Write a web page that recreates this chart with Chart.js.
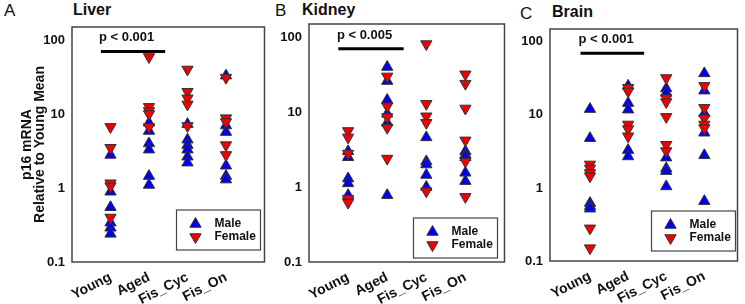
<!DOCTYPE html>
<html>
<head>
<meta charset="utf-8">
<script src="https://cdn.jsdelivr.net/npm/chart.js@4.4.1/dist/chart.umd.min.js"></script>
<style>
  html, body { margin: 0; padding: 0; background: #fff; }
  body { width: 745px; height: 304px; position: relative; overflow: hidden; font-family: "Liberation Sans", Arial, sans-serif; color: #111; }
  .panel { position: absolute; top: 0; height: 304px; }
  .letter { position: absolute; font-size: 17px; }
  .title { position: absolute; font-size: 16px; font-weight: bold; }
</style>
</head>
<body>
<div class="letter" style="left:4px;top:1px">A</div>
<div class="title" style="left:73px;top:1px">Liver</div>
<div class="letter" style="left:275px;top:1px">B</div>
<div class="title" style="left:302px;top:1px">Kidney</div>
<div class="letter" style="left:520px;top:4px">C</div>
<div class="title" style="left:552px;top:3px">Brain</div>

<div class="panel" style="left:0;width:272px"><canvas id="liver" width="272" height="304"></canvas></div>
<div class="panel" style="left:272px;width:240px"><canvas id="kidney" width="240" height="304"></canvas></div>
<div class="panel" style="left:512px;width:233px"><canvas id="brain" width="233" height="304"></canvas></div>

<script>
// values, one inner array per group (Young, Aged, Fis_Cyc, Fis_On)
const categories = ['Young', 'Aged', 'Fis_Cyc', 'Fis_On'];
const yTicks = [0.1, 1, 10, 100];
const seriesNames = ['Male', 'Female'];

const liverMale = [[2.8, 0.89, 0.55, 0.34, 0.29, 0.24], [7.6, 5.9, 4.0, 3.3, 1.45, 1.1], [7.3, 4.5, 3.8, 3.3, 2.65, 2.2], [33, 7.0, 5.7, 2.0, 1.45, 1.3]];
const liverFemale = [[6.7, 3.5, 1.16, 1.06, 0.40], [59, 12.5, 11, 10, 6.7], [40, 20, 16.3, 13.5, 6.9], [31, 8.8, 7.8, 3.8, 2.8]];
const kidneyMale = [[3.0, 2.5, 1.3, 1.12, 0.78], [40, 26, 14.5, 9.5, 7.2, 0.78], [4.6, 2.2, 2.0, 1.45, 1.0], [3.0, 2.7, 2.5, 1.55, 1.2]];
const kidneyFemale = [[5.6, 4.6, 2.8, 0.7, 0.62], [30, 12, 8.6, 6.2, 2.4], [81, 12.9, 8.8, 7.2, 0.88], [32, 24, 11.2, 4.2, 2.2, 0.74]];
const brainMale = [[12, 4.8, 0.62, 0.56, 0.52], [25, 14.5, 11.8, 3.3, 2.7], [23, 20, 2.6, 1.85, 1.7, 1.05], [37, 21.5, 10.5, 5.7, 2.8, 0.66]];
const brainFemale = [[2.1, 1.85, 1.6, 1.45, 0.28, 0.15], [23.5, 21, 7.4, 6.4, 5.1], [32, 17, 15, 9.4, 3.9, 3.2], [25, 12.5, 9, 7.4, 6.6]];

const pLabels = ['p < 0.001', 'p < 0.005', 'p < 0.001'];
const sigBar = { from: 0.75, to: 2.42, y: 70, textX: 1.42 };

const FONT = '"Liberation Sans", Arial, sans-serif';
const BLUE = '#0000f0';
const RED = '#f00000';
const EDGE = '#333';

const toPoints = groups => groups.flatMap((vals, i) => vals.map(v => ({ x: i + 1, y: v })));

function tri(ctx, cx, cy, r, down, fill) {
  ctx.save();
  ctx.translate(cx, cy);
  if (down) ctx.rotate(Math.PI);
  ctx.beginPath();
  for (let k = 0; k < 3; k++) {
    const a = k * 2 * Math.PI / 3;
    ctx[k ? 'lineTo' : 'moveTo'](Math.sin(a) * r, -Math.cos(a) * r);
  }
  ctx.closePath();
  ctx.fillStyle = fill;
  ctx.fill();
  ctx.strokeStyle = EDGE;
  ctx.lineWidth = 1;
  ctx.stroke();
  ctx.restore();
}

// frame, significance bar and the boxed legend
const panelDecor = {
  id: 'panelDecor',
  afterDatasetsDraw(chart, args, o) {
    const { ctx, chartArea: a, scales: { x, y } } = chart;
    ctx.save();
    ctx.strokeStyle = '#444';
    ctx.lineWidth = 1.5;
    ctx.strokeRect(a.left, a.top, a.right - a.left, a.bottom - a.top);

    const by = y.getPixelForValue(sigBar.y);
    ctx.strokeStyle = '#000';
    ctx.lineWidth = 3;
    ctx.beginPath();
    ctx.moveTo(x.getPixelForValue(sigBar.from), by);
    ctx.lineTo(x.getPixelForValue(sigBar.to), by);
    ctx.stroke();
    ctx.fillStyle = '#111';
    ctx.font = 'bold 13px ' + FONT;
    ctx.textAlign = 'center';
    ctx.textBaseline = 'alphabetic';
    ctx.fillText(o.pLabel, x.getPixelForValue(sigBar.textX), by - 10);

    const lw = 84, lh = 40;
    const lx = a.right - lw - o.legendRight;
    const ly = a.bottom - lh - o.legendBottom;
    ctx.fillStyle = '#fff';
    ctx.fillRect(lx, ly, lw, lh);
    ctx.strokeStyle = '#444';
    ctx.lineWidth = 1.2;
    ctx.strokeRect(lx, ly, lw, lh);
    ctx.font = 'bold 12px ' + FONT;
    ctx.textAlign = 'left';
    ctx.textBaseline = 'middle';
    seriesNames.forEach((name, i) => {
      const ry = ly + 14 + i * 13;
      tri(ctx, lx + 19, ry, 6.5, i === 1, i === 0 ? BLUE : RED);
      ctx.fillStyle = '#111';
      ctx.fillText(name, lx + 38, ry);
    });
    ctx.restore();
  }
};

function makePanel(id, male, female, cfg) {
  const yScale = {
    type: 'logarithmic',
    min: 0.1,
    max: 150,
    grid: { display: false, drawTicks: false },
    border: { display: false },
    afterBuildTicks: s => { s.ticks = yTicks.map(v => ({ value: v })); },
    afterFit: s => { s.width = cfg.yWidth; },
    ticks: {
      padding: 7,
      color: '#111',
      font: { family: FONT, size: 13, weight: 'bold' },
      callback: v => String(v)
    }
  };
  if (cfg.yTitle) {
    yScale.title = {
      display: true,
      text: cfg.yTitle,
      color: '#111',
      font: { family: FONT, size: 14, weight: 'bold', lineHeight: 0.95 },
      padding: { top: 20, bottom: 0 }
    };
  }

  return new Chart(document.getElementById(id), {
    type: 'scatter',
    data: {
      datasets: [
        {
          label: seriesNames[1],
          data: toPoints(female),
          pointStyle: 'triangle',
          rotation: 180,
          radius: 6.5,
          backgroundColor: RED,
          borderColor: EDGE,
          borderWidth: 1
        },
        {
          label: seriesNames[0],
          data: toPoints(male),
          pointStyle: 'triangle',
          radius: 6.5,
          backgroundColor: BLUE,
          borderColor: EDGE,
          borderWidth: 1
        }
      ]
    },
    options: {
      responsive: false,
      animation: false,
      devicePixelRatio: 1,
      layout: { padding: { top: cfg.top, right: cfg.right, left: 0, bottom: 0 } },
      scales: {
        x: {
          type: 'linear',
          min: cfg.xMin,
          max: cfg.xMax,
          grid: { display: false, drawTicks: false },
          border: { display: false },
          afterBuildTicks: s => { s.ticks = categories.map((c, i) => ({ value: i + 1 })); },
          afterFit: s => { s.height = cfg.xHeight; },
          ticks: {
            autoSkip: false,
            minRotation: 27,
            maxRotation: 27,
            padding: 7,
            color: '#111',
            font: { family: FONT, size: 14, weight: 'bold' },
            callback: v => categories[v - 1] || ''
          }
        },
        y: yScale
      },
      plugins: {
        legend: { display: false },
        tooltip: { enabled: false },
        panelDecor: { pLabel: cfg.pLabel, legendRight: cfg.legendRight, legendBottom: cfg.legendBottom }
      }
    },
    plugins: [panelDecor]
  });
}

makePanel('liver', liverMale, liverFemale, {
  pLabel: pLabels[0], yWidth: 72, top: 27, right: 6, xHeight: 42, xMin: 0, xMax: 5,
  yTitle: ['p16 mRNA', 'Relative to Young Mean'], legendRight: 4, legendBottom: 12
});
makePanel('kidney', kidneyMale, kidneyFemale, {
  pLabel: pLabels[1], yWidth: 37, top: 24, right: 5, xHeight: 42, xMin: 0, xMax: 5,
  legendRight: 7, legendBottom: 4
});
makePanel('brain', brainMale, brainFemale, {
  pLabel: pLabels[2], yWidth: 38, top: 29, right: 2, xHeight: 43, xMin: -0.05, xMax: 4.87,
  legendRight: 2, legendBottom: 10
});
</script>
</body>
</html>
